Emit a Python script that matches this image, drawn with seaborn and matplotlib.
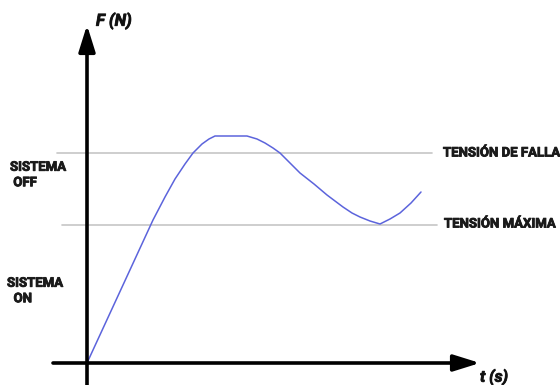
import numpy as np
import pandas as pd
import matplotlib
matplotlib.use("Agg")
import matplotlib.pyplot as plt
import matplotlib.patheffects as pe
import seaborn as sns

# curve (t in s, F in N, arbitrary units)
t_vals = [0, 66, 78, 88, 98, 106, 115, 122, 128, 144, 160, 170, 178, 186, 193, 203, 213,
          227, 240, 256, 265, 273, 283, 293, 303, 313, 324, 334]
f_vals = [0, 143, 166, 184, 199, 210, 219, 224, 227, 227, 227, 224, 220, 215, 210, 200, 190,
          179, 168, 156, 150, 146, 142, 139, 144, 150, 160, 171]

# threshold levels
f_falla = 210
f_maxima = 138
labels_right = ["TENSIÓN DE FALLA", "TENSIÓN MÁXIMA"]
labels_left = ["SISTEMA\n OFF", "SISTEMA\n  ON"]

df = pd.DataFrame({"t": t_vals, "F": f_vals})

sns.set_style("white")
plt.rcParams["font.family"] = ["Roboto", "DejaVu Sans"]

fig = plt.figure(figsize=(5.6, 3.85), dpi=100)
ax = fig.add_axes([0, 0, 1, 1])
ax.set_xlim(-87, 473)
ax.set_ylim(-22, 363)
ax.axis("off")

# threshold lines
ax.plot([-30, 345], [f_falla, f_falla], color="#c6c6c6", lw=1.2, zorder=1)
ax.plot([-25, 350], [f_maxima, f_maxima], color="#c6c6c6", lw=1.2, zorder=1)

# force curve
sns.lineplot(data=df, x="t", y="F", ax=ax, color="#5c64dc", lw=1.1, sort=False, zorder=3)
ax.set_xlabel("")
ax.set_ylabel("")

# axes with arrows
arrow = dict(arrowstyle="-|>,head_length=1.6,head_width=0.5", color="black", lw=2.6,
             shrinkA=0, shrinkB=0)
ax.annotate("", xy=(0, 338), xytext=(0, -22), arrowprops=arrow, zorder=4)
ax.annotate("", xy=(393, 0), xytext=(-34, 0), arrowprops=arrow, zorder=4)

# fake a heavier weight with a thin outline
heavy = [pe.withStroke(linewidth=0.6, foreground="#1a1a1a")]

ax.text(9, 342, "F (N)", fontsize=12, fontweight="bold", style="italic",
        ha="left", va="center", color="#111111", path_effects=heavy)
ax.text(393, -14, "t (s)", fontsize=11.5, fontweight="bold", style="italic",
        ha="left", va="center", color="#111111", path_effects=heavy)

txt = dict(fontsize=9.5, fontweight="bold", ha="left", va="center", color="#1a1a1a",
           path_effects=heavy)
ax.text(356, f_falla, labels_right[0], **txt)
ax.text(357, f_maxima + 1, labels_right[1], **txt)
ax.text(-77, 188, labels_left[0], linespacing=1.25, **txt)
ax.text(-80, 72, labels_left[1], linespacing=1.25, **txt)

fig.savefig("out.png", dpi=100)
